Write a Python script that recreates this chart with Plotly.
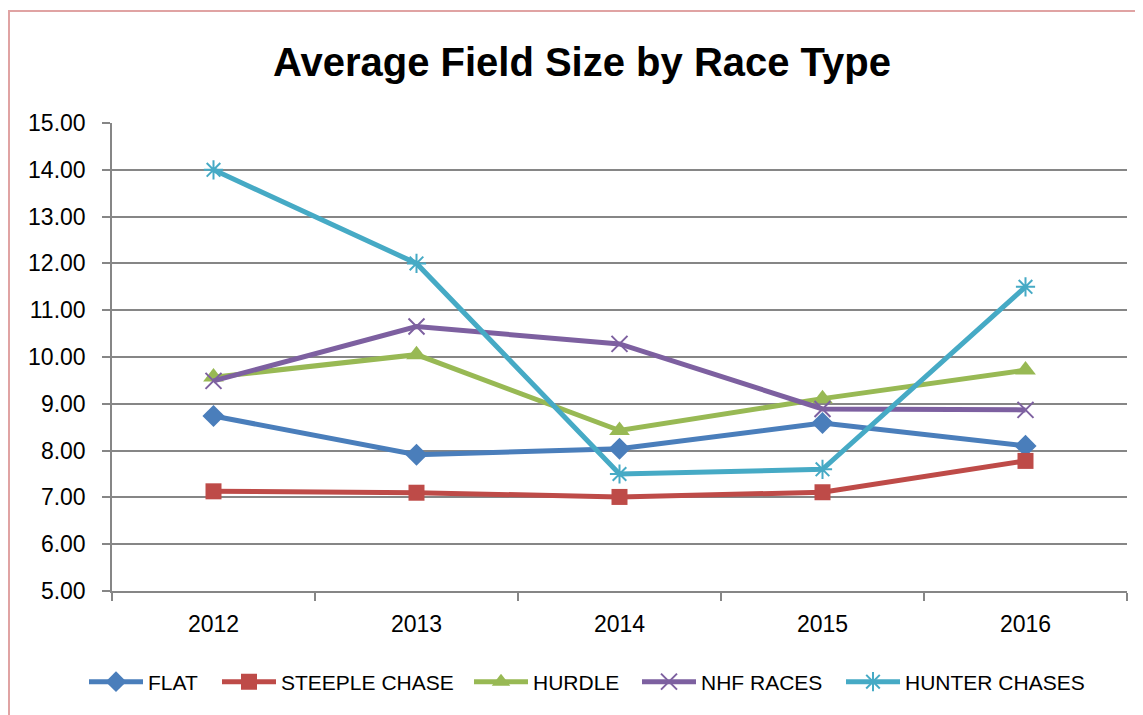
import plotly.graph_objects as go

years = ["2012", "2013", "2014", "2015", "2016"]
flat = [8.74, 7.91, 8.04, 8.59, 8.10]
steeple_chase = [7.13, 7.10, 7.01, 7.11, 7.78]
hurdle = [9.57, 10.05, 8.43, 9.11, 9.72]
nhf_races = [9.49, 10.65, 10.28, 8.89, 8.87]
hunter_chases = [14.00, 12.00, 7.50, 7.60, 11.50]
y_ticks = [5, 6, 7, 8, 9, 10, 11, 12, 13, 14, 15]

series = [
    ("FLAT", flat, "#4A7EBB", "diamond", 17, 64),
    ("STEEPLE CHASE", steeple_chase, "#BE4B48", "square", 16, 183),
    ("HURDLE", hurdle, "#98B954", "triangle-up", 18, 99),
    ("NHF RACES", nhf_races, "#7D60A0", "x-thin", 16, 135),
    ("HUNTER CHASES", hunter_chases, "#46AAC5", "asterisk", 16, 176),
]

fig = go.Figure()
for name, vals, color, sym, size, lw in series:
    thin = sym in ("x-thin", "asterisk")
    fig.add_trace(go.Scatter(
        x=years, y=vals, name=name, mode="lines+markers",
        line=dict(color=color, width=5),
        marker=dict(symbol=sym, size=size, color=color,
                    line=dict(color=color, width=2 if thin else 0)),
        legendwidth=lw,
    ))

FONT = "Liberation Sans, Arial, sans-serif"
OFF = 8  # page body margin
W, H = 1143 - OFF, 715 - OFF
L, R, T, B = 112 - OFF, 16, 123 - OFF, 124
pw, ph = W - L - R, H - T - B

fig.update_layout(
    width=W, height=H,
    margin=dict(l=L, r=R, t=T, b=B),
    paper_bgcolor="white", plot_bgcolor="white",
    title=dict(text="<b>Average Field Size by Race Type</b>",
               x=(582 - OFF) / W, xanchor="center",
               y=1 - (62 - OFF) / H, yanchor="middle",
               font=dict(family=FONT, size=40, color="black")),
    font=dict(family=FONT, size=21, color="black"),
    showlegend=True,
    legend=dict(orientation="h", x=(84 - OFF - L) / pw, xanchor="left",
                y=-(682 - OFF - (H - B)) / ph, yanchor="middle",
                font=dict(size=21, color="black"), itemwidth=54,
                tracegroupgap=0, bgcolor="rgba(0,0,0,0)"),
    xaxis=dict(type="category", tickson="boundaries", showgrid=False,
               showline=True, linecolor="#868686", linewidth=1.5,
               ticks="outside", ticklen=8, tickcolor="#868686", tickwidth=1.5,
               ticklabelstandoff=12, tickfont=dict(size=23),
               range=[-0.5, 4.5], fixedrange=True),
    yaxis=dict(range=[5, 15], tickvals=y_ticks,
               ticktext=[f"{v:.2f}" for v in y_ticks],
               showgrid=True, gridcolor="#868686", gridwidth=1.5,
               showline=True, linecolor="#868686", linewidth=1.5,
               ticks="outside", ticklen=8, tickcolor="#868686", tickwidth=1.5,
               ticklabelstandoff=12, tickfont=dict(size=23),
               zeroline=False, fixedrange=True),
)

# pinkish chart border (cropped at right and bottom in the reference)
fig.add_shape(type="rect", xref="paper", yref="paper",
              x0=(9 - OFF - L) / pw, x1=(W + 20 - L) / pw,
              y0=-(B + 20) / ph, y1=((H - B) - (11 - OFF)) / ph,
              line=dict(color="#E0A3A3", width=2), fillcolor="rgba(0,0,0,0)",
              layer="below")

fig.write_html("out.html")
